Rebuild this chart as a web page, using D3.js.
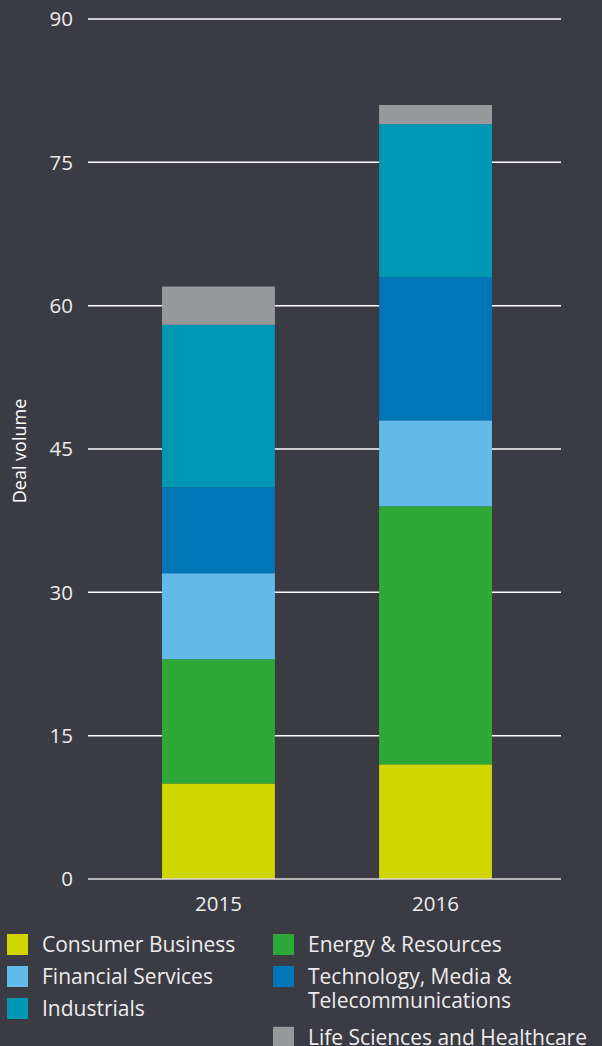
<!DOCTYPE html>
<html><head><meta charset="utf-8">
<script src="https://cdn.jsdelivr.net/npm/d3@7"></script>
<style>
html,body{margin:0;padding:0;background:#3b3b43;}
svg{display:block;font-family:"Open Sans",sans-serif;}
</style></head>
<body>
<svg id="chart" width="602" height="1046"></svg>
<script>
const years = ["2015", "2016"];
const seriesNames = ["Consumer Business", "Energy & Resources", "Financial Services", "Technology, Media & Telecommunications", "Industrials", "Life Sciences and Healthcare"];
const consumerBusiness = [10, 12];
const energyResources = [13, 27];
const financialServices = [9, 9];
const tmt = [9, 15];
const industrials = [17, 16];
const lifeSciences = [4, 2];
const yTicks = [0, 15, 30, 45, 60, 75, 90];
const colors = ["#d0d600", "#2ea836", "#62bbea", "#0076b6", "#0097b5", "#97999b"];

const seriesValues = [consumerBusiness, energyResources, financialServices, tmt, industrials, lifeSciences];
const rows = years.map((y, i) => {
  const r = {year: y};
  seriesNames.forEach((s, k) => r[s] = seriesValues[k][i]);
  return r;
});

const svg = d3.select("#chart");
const W = 602, H = 1046;
svg.append("rect").attr("width", W).attr("height", H).attr("fill", "#3b3b43");

const x0 = 88, x1 = 561;
const y = d3.scaleLinear().domain([0, 90]).range([879, 19]);
const x = d3.scaleBand().domain(years).range([88, 566]).paddingInner(0.48).paddingOuter(0.341);
const color = d3.scaleOrdinal().domain(seriesNames).range(colors);

// gridlines
svg.append("g").selectAll("line").data(yTicks.filter(t => t > 0)).join("line")
  .attr("x1", x0).attr("x2", x1)
  .attr("y1", d => y(d)).attr("y2", d => y(d))
  .attr("stroke", "#ffffff").attr("stroke-width", 1.5);

// y tick labels
svg.append("g").selectAll("text").data(yTicks).join("text")
  .attr("x", 73).attr("y", d => y(d)).attr("dy", "0.36em")
  .attr("text-anchor", "end").attr("fill", "#ececec")
  .attr("font-size", 20.5).text(d => d);

// stacked bars
const stack = d3.stack().keys(seriesNames)(rows);
svg.append("g").selectAll("g").data(stack).join("g")
  .attr("fill", d => color(d.key))
  .selectAll("rect").data(d => d).join("rect")
  .attr("x", d => x(d.data.year))
  .attr("width", x.bandwidth())
  .attr("y", d => y(d[1]))
  .attr("height", d => y(d[0]) - y(d[1]));

// baseline
svg.append("line").attr("x1", x0).attr("x2", x1).attr("y1", y(0)).attr("y2", y(0))
  .attr("stroke", "#dcdcdc").attr("stroke-width", 1.5);

// x labels
svg.append("g").selectAll("text").data(years).join("text")
  .attr("x", d => x(d) + x.bandwidth() / 2).attr("y", 911)
  .attr("text-anchor", "middle").attr("fill", "#ececec")
  .attr("font-size", 20.5).text(d => d);

// y title
svg.append("text").attr("transform", "translate(26,451) rotate(-90)")
  .attr("text-anchor", "middle").attr("fill", "#ffffff").attr("font-size", 18)
  .text("Deal volume");

// legend
const legendItems = [
  {name: seriesNames[0], col: 0, row: 0, lines: ["Consumer Business"]},
  {name: seriesNames[2], col: 0, row: 1, lines: ["Financial Services"]},
  {name: seriesNames[4], col: 0, row: 2, lines: ["Industrials"]},
  {name: seriesNames[1], col: 1, row: 0, lines: ["Energy & Resources"]},
  {name: seriesNames[3], col: 1, row: 1, lines: ["Technology, Media &", "Telecommunications"]},
  {name: seriesNames[5], col: 1, row: 2.9, lines: ["Life Sciences and Healthcare"]}
];
const colX = [7, 273];
const lg = svg.append("g").selectAll("g").data(legendItems).join("g")
  .attr("transform", d => `translate(${colX[d.col]},${934 + d.row * 32})`);
lg.append("rect").attr("width", 21).attr("height", 21).attr("fill", d => color(d.name));
lg.each(function(d) {
  const g = d3.select(this);
  d.lines.forEach((l, i) => {
    g.append("text").attr("x", 35).attr("y", 18 + i * 24)
      .attr("fill", "#ececec").attr("font-size", 21).text(l);
  });
});
</script>
</body></html>
